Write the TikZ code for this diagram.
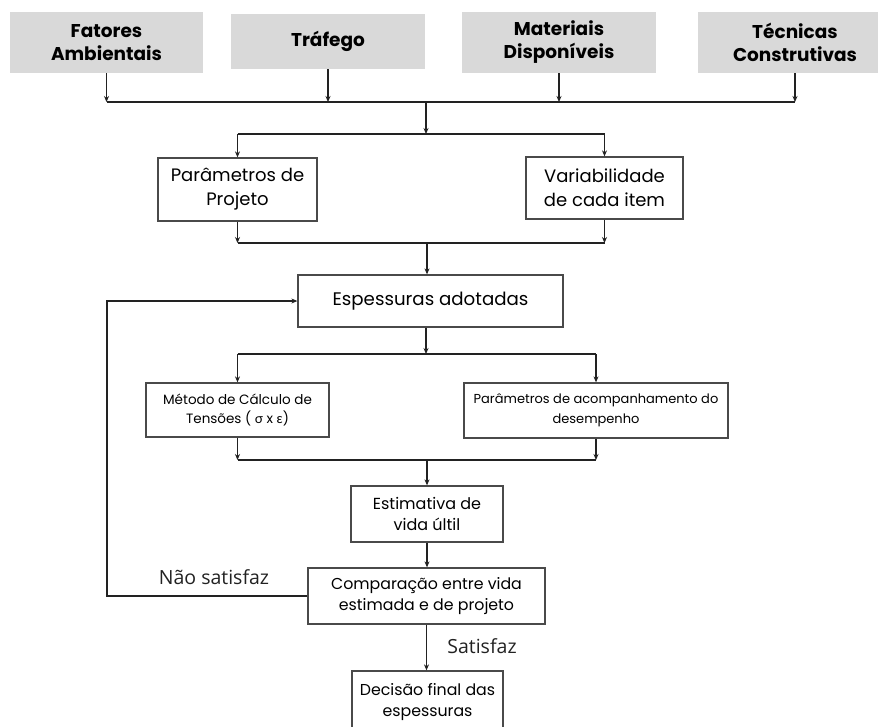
\documentclass[tikz,border=0pt]{standalone}
\usepackage{fontspec}
\setmainfont{Poppins}
\newfontfamily\labfont{Open Sans}
\newfontfamily\grkfont{Lato}
\usetikzlibrary{arrows.meta}
\definecolor{topgray}{HTML}{D9D9D9}
\definecolor{edge}{HTML}{4A4A4A}
\definecolor{ink}{HTML}{222222}
\tikzset{
  topbox/.style={fill=topgray, draw=none, align=center, inner sep=0pt, font=\bfseries\fontsize{18.5}{23}\selectfont},
  wbox/.style={draw=edge, line width=1.3pt, fill=white, align=center, inner sep=0pt},
  conn/.style={draw=ink, line width=1.3pt},
  arr/.style={conn, -{Stealth[length=6pt,width=5pt]}},
  lab/.style={font=\labfont\fontsize{19.5}{22}\selectfont, text=ink, inner sep=0pt}
}
\begin{document}
\begin{tikzpicture}[x=1pt,y=-1pt]
\clip (0,0) rectangle (878,726);
\fill[white] (0,0) rectangle (878,726);
% top boxes
\node[topbox, minimum width=193pt, minimum height=61pt] (fa) at (106.5,42.5) {Fatores\\Ambientais};
\node[topbox, minimum width=194pt, minimum height=55pt] (tr) at (328,41.5) {Tráfego};
\node[topbox, minimum width=194pt, minimum height=61pt] (md) at (559,42.5) {Materiais\\Disponíveis};
\node[topbox, minimum width=194pt, minimum height=61pt] (tc) at (795,42.5) {Técnicas\\Construtivas};
% middle boxes
\node[wbox, minimum width=159pt, minimum height=63pt, font=\fontsize{18}{24}\selectfont] (pp) at (237.5,189.5) {Parâmetros de\\Projeto};
\node[wbox, minimum width=157pt, minimum height=62pt, font=\fontsize{18}{24}\selectfont] (vi) at (604.5,188) {Variabilidade\\de cada item};
\node[wbox, minimum width=265pt, minimum height=52pt, font=\fontsize{18.2}{20}\selectfont] (es) at (430.5,301) {Espessuras adotadas};
\node[wbox, minimum width=183pt, minimum height=54pt, font=\fontsize{13.5}{19.5}\selectfont] (mc) at (237.5,410) {Método de Cálculo de\\Tensões ( {\grkfont σ} x {\grkfont ε})};
\node[wbox, minimum width=264pt, minimum height=55pt, font=\fontsize{13}{19.5}\selectfont] (pa) at (596,410.5) {Parâmetros de acompanhamento do\\desempenho};
\node[wbox, minimum width=152pt, minimum height=56pt, font=\fontsize{16}{21.5}\selectfont] (ev) at (427,514) {Estimativa de\\vida últil};
\node[wbox, minimum width=237pt, minimum height=56pt, font=\fontsize{15.8}{20.5}\selectfont] (cp) at (426.5,596) {Comparação entre vida\\estimada e de projeto};
\node[wbox, minimum width=151pt, minimum height=62pt, font=\fontsize{15.8}{21}\selectfont] (df) at (427.5,702) {Decisão final das\\espessuras};
% bus coordinates
\coordinate (b1) at (426,102);
\coordinate (b2) at (426,134);
\coordinate (b3) at (427,243);
\coordinate (b4) at (426,354);
\coordinate (b5) at (427,460);
\coordinate (lp) at (107,596);
% top bus
\draw[arr] (fa.south) -- (fa.south |- b1);
\draw[arr] (tr.south) -- (tr.south |- b1);
\draw[arr] (md.south) -- (md.south |- b1);
\draw[arr] (tc.south) -- (tc.south |- b1);
\draw[conn] (fa.south |- b1) -- (tc.south |- b1);
\draw[arr] (b1) -- (b2);
\draw[conn] (pp.north |- b2) -- (vi.north |- b2);
\draw[arr] (pp.north |- b2) -- (pp.north);
\draw[arr] (vi.north |- b2) -- (vi.north);
% second bus
\draw[arr] (pp.south) -- (pp.south |- b3);
\draw[arr] (vi.south) -- (vi.south |- b3);
\draw[conn] (pp.south |- b3) -- (vi.south |- b3);
\draw[arr] (b3) -- (b3 |- es.north);
% third bus
\draw[arr] (b4 |- es.south) -- (b4);
\draw[conn] (mc.north |- b4) -- (pa.north |- b4);
\draw[arr] (mc.north |- b4) -- (mc.north);
\draw[arr] (pa.north |- b4) -- (pa.north);
% fourth bus
\draw[arr] (mc.south) -- (mc.south |- b5);
\draw[arr] (pa.south) -- (pa.south |- b5);
\draw[conn] (mc.south |- b5) -- (pa.south |- b5);
\draw[arr] (b5) -- (b5 |- ev.north);
% lower chain
\draw[arr] (ev.south) -- (ev.south |- cp.north);
\draw[arr] (cp.south) -- (cp.south |- df.north);
% loop
\draw[arr] (cp.west) -- (lp) -- (lp |- es.west) -- (es.west);
% labels
\node[lab] (ns) at (214,577) {Não satisfaz};
\node[lab] (sf) at (482,646) {Satisfaz};
\end{tikzpicture}
\end{document}
